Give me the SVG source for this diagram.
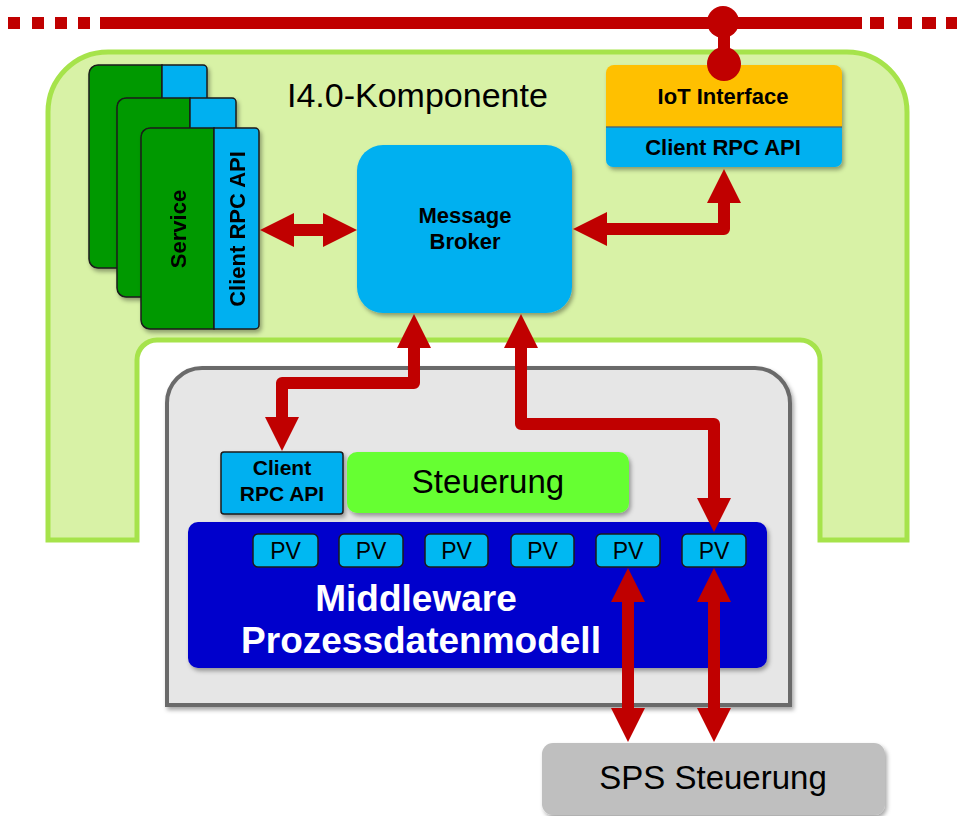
<svg xmlns="http://www.w3.org/2000/svg" width="957" height="816" viewBox="0 0 957 816">
<style>
text{font-family:"Liberation Sans",Arial,sans-serif;fill:#000}
.b{font-weight:bold}
.green{fill:#009900;stroke:#1a1a1a;stroke-width:1.5}
.blue{fill:#00b0f0;stroke:#1a1a1a;stroke-width:1.5}
.pv{fill:#00b8f2;stroke:#1a1a1a;stroke-width:1.5}
.red{fill:#c00000}
.conn{fill:none;stroke:#c00000;stroke-width:12;stroke-linejoin:round;marker-start:url(#ah);marker-end:url(#ah)}
</style>
<defs>
<filter id="sh" x="-10%" y="-10%" width="130%" height="130%">
<feDropShadow dx="2" dy="3" stdDeviation="2" flood-color="#000" flood-opacity="0.35"/>
</filter>
<marker id="ah" viewBox="0 0 34 34" refX="1" refY="17" markerWidth="34" markerHeight="34" markerUnits="userSpaceOnUse" orient="auto-start-reverse">
<path d="M0,0 L34,17 L0,34 z" fill="#c00000"/>
</marker>
</defs>

<g id="bus">
<rect class="red" x="8" y="17" width="12" height="12"/>
<rect class="red" x="32" y="17" width="12" height="12"/>
<rect class="red" x="55" y="17" width="12" height="12"/>
<rect class="red" x="78" y="17" width="12" height="12"/>
<rect class="red" x="100" y="17" width="762" height="12"/>
<rect class="red" x="870" y="17" width="14" height="12"/>
<rect class="red" x="898" y="17" width="14" height="12"/>
<rect class="red" x="922" y="17" width="14" height="12"/>
<rect class="red" x="946" y="17" width="11" height="12"/>
</g>

<g id="i40-komponente">
<path d="M48,540 V112 A60,60 0 0 1 108,52 H847 A60,60 0 0 1 907,112 V540 H820 V360 A20,20 0 0 0 800,340 H157 A20,20 0 0 0 137,360 V540 Z" fill="#d8f2a6" stroke="#a6e34b" stroke-width="5"/>
<text x="287" y="107" font-size="34">I4.0-Komponente</text>
</g>

<g id="service-1" filter="url(#sh)">
<path class="green" d="M98,65 H162 V268 H98 A9,9 0 0 1 89,259 V74 A9,9 0 0 1 98,65 Z"/>
<path class="blue" d="M162,65 H203 A4,4 0 0 1 207,69 V264 A4,4 0 0 1 203,268 H162 Z"/>
</g>
<g id="service-2" filter="url(#sh)">
<path class="green" d="M126,98 H190 V297 H126 A9,9 0 0 1 117,288 V107 A9,9 0 0 1 126,98 Z"/>
<path class="blue" d="M190,98 H232 A4,4 0 0 1 236,102 V293 A4,4 0 0 1 232,297 H190 Z"/>
</g>
<g id="service-3" filter="url(#sh)">
<path class="green" d="M150,128 H214 V329 H150 A9,9 0 0 1 141,320 V137 A9,9 0 0 1 150,128 Z"/>
<path class="blue" d="M214,128 H255 A4,4 0 0 1 259,132 V325 A4,4 0 0 1 255,329 H214 Z"/>
<text class="b" font-size="22" text-anchor="middle" transform="translate(186,229) rotate(-90)">Service</text>
<text class="b" font-size="22" text-anchor="middle" transform="translate(245,229) rotate(-90)">Client RPC API</text>
</g>

<g id="message-broker">
<rect x="357" y="145" width="215" height="168" rx="26" fill="#00b0f0" filter="url(#sh)"/>
<text class="b" x="465" y="223" font-size="22" text-anchor="middle">Message</text>
<text class="b" x="465" y="249" font-size="22" text-anchor="middle">Broker</text>
</g>

<g id="iot-interface">
<path d="M614,65 H834 A8,8 0 0 1 842,73 V127 H606 V73 A8,8 0 0 1 614,65 Z" fill="#ffc000" filter="url(#sh)"/>
<path d="M606,127 H842 V160 A7,7 0 0 1 835,167 H613 A7,7 0 0 1 606,160 Z" fill="#00b0f0" filter="url(#sh)"/>
<rect x="606" y="126" width="236" height="2" fill="#4a6a78" opacity="0.7"/>
<text class="b" x="723" y="104" font-size="22" text-anchor="middle">IoT Interface</text>
<text class="b" x="723" y="155" font-size="22" text-anchor="middle">Client RPC API</text>
</g>

<g id="bus-tap">
<rect class="red" x="718" y="34" width="12" height="18"/>
<circle class="red" cx="723" cy="22" r="16"/>
<circle class="red" cx="724" cy="64" r="17"/>
</g>

<g id="steuerungsrechner">
<path d="M167,705 V403 A35,35 0 0 1 202,368 H755 A35,35 0 0 1 790,403 V705 Z" fill="#e6e6e6" stroke="#6b6b6b" stroke-width="4" filter="url(#sh)"/>
</g>

<g id="client-rpc-api">
<rect class="blue" x="221" y="452" width="122" height="62" rx="3" filter="url(#sh)"/>
<text class="b" x="282" y="475" font-size="21" text-anchor="middle">Client</text>
<text class="b" x="282" y="501" font-size="21" text-anchor="middle">RPC API</text>
</g>

<g id="steuerung">
<rect x="347" y="452" width="282" height="61" rx="10" fill="#66ff33" filter="url(#sh)"/>
<text x="488" y="493" font-size="33" text-anchor="middle">Steuerung</text>
</g>

<g id="middleware">
<rect x="188" y="522" width="579" height="146" rx="10" fill="#0000cc" filter="url(#sh)"/>
<text class="b" x="416" y="611" font-size="37" text-anchor="middle" style="fill:#fff">Middleware</text>
<text class="b" x="421" y="653" font-size="37" text-anchor="middle" style="fill:#fff">Prozessdatenmodell</text>
</g>

<g id="pv-1"><rect class="pv" x="253" y="534" width="65" height="33" rx="5"/><text x="285.5" y="559" font-size="23" text-anchor="middle">PV</text></g>
<g id="pv-2"><rect class="pv" x="339" y="534" width="64" height="33" rx="5"/><text x="371" y="559" font-size="23" text-anchor="middle">PV</text></g>
<g id="pv-3"><rect class="pv" x="425" y="534" width="63" height="33" rx="5"/><text x="456.5" y="559" font-size="23" text-anchor="middle">PV</text></g>
<g id="pv-4"><rect class="pv" x="511" y="534" width="63" height="33" rx="5"/><text x="542.5" y="559" font-size="23" text-anchor="middle">PV</text></g>
<g id="pv-5"><rect class="pv" x="596" y="534" width="64" height="33" rx="5"/><text x="628" y="559" font-size="23" text-anchor="middle">PV</text></g>
<g id="pv-6"><rect class="pv" x="682" y="534" width="64" height="33" rx="5"/><text x="714" y="559" font-size="23" text-anchor="middle">PV</text></g>

<g id="sps-steuerung">
<rect x="542" y="743" width="343" height="72" rx="11" fill="#bfbfbf" filter="url(#sh)"/>
<text x="713" y="789" font-size="33" text-anchor="middle">SPS Steuerung</text>
</g>

<g id="connectors">
<path class="conn" d="M293,230 H324"/>
<path class="conn" d="M606,229 H724 V202"/>
<path class="conn" d="M414,347 V383 H282 V418"/>
<path class="conn" d="M521,347 V424 H714 V499"/>
<path class="conn" d="M628,601 V709"/>
<path class="conn" d="M714,601 V709"/>
</g>
</svg>
